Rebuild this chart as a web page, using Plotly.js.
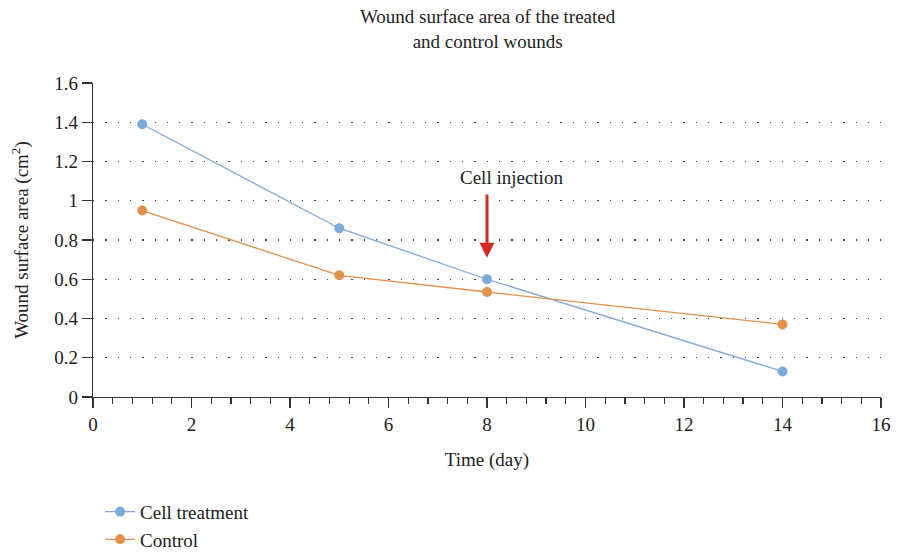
<!DOCTYPE html>
<html>
<head>
<meta charset="utf-8">
<script src="https://cdn.plot.ly/plotly-3.0.1.min.js"></script>
<style>html,body{margin:0;padding:0;background:#fff;}#chart{width:908px;height:554px;}</style>
</head>
<body>
<div id="chart"></div>
<script>
const days = [1, 5, 8, 14];
const cellTreatment = [1.39, 0.86, 0.60, 0.13];
const control = [0.95, 0.62, 0.535, 0.37];
const seriesNames = ["Cell treatment", "Control"];
const yTicks = [0, 0.2, 0.4, 0.6, 0.8, 1, 1.2, 1.4, 1.6];
const yTickText = ["0", "0.2", "0.4", "0.6", "0.8", "1", "1.2", "1.4", "1.6"];
const xTicks = [0, 2, 4, 6, 8, 10, 12, 14, 16];
const injectionDay = 8;
const annotationText = "Cell injection";

const serif = "Liberation Serif";
const blue = "#7eaadb";
const orange = "#e0914b";
const txt = "#222";

const traces = [
  {x: days, y: cellTreatment, name: seriesNames[0], mode: "lines+markers",
   line: {color: blue, width: 1.3}, marker: {color: blue, size: 10}},
  {x: days, y: control, name: seriesNames[1], mode: "lines+markers",
   line: {color: orange, width: 1.3}, marker: {color: orange, size: 10}}
];

const layout = {
  width: 908, height: 554,
  margin: {l: 93, r: 27, t: 83, b: 157, autoexpand: false},
  paper_bgcolor: "#fff", plot_bgcolor: "#fff",
  font: {family: serif, size: 19, color: txt},
  title: {text: "Wound surface area of the treated<br>and control wounds",
          font: {family: serif, size: 19, color: txt},
          x: 0.537, xanchor: "center", y: 0.958, yanchor: "top"},
  xaxis: {range: [0, 16], tickvals: xTicks, ticks: "outside", ticklen: 10, tickwidth: 1.3,
          tickcolor: "#333", showline: true, linecolor: "#333", linewidth: 1.3,
          showgrid: false, zeroline: false,
          minor: {dtick: 0.4, ticks: "outside", ticklen: 6, tickwidth: 1.2, tickcolor: "#333", showgrid: false},
          tickfont: {family: serif, size: 19, color: txt},
          title: {text: "Time (day)", font: {family: serif, size: 19, color: txt}, standoff: 18}},
  yaxis: {range: [0, 1.6], tickvals: yTicks, ticktext: yTickText, ticks: "outside", ticklen: 10,
          tickwidth: 1.3, tickcolor: "#333", showline: true, linecolor: "#333", linewidth: 1.3,
          showgrid: true, gridcolor: "#444", gridwidth: 1.3, griddash: "1.3px,11px", zeroline: false,
          tickfont: {family: serif, size: 19, color: txt},
          title: {text: "Wound surface area (cm<sup>2</sup>)", font: {family: serif, size: 19, color: txt}, standoff: 20}},
  showlegend: true,
  legend: {x: 0.009, xanchor: "left", y: -0.305, yanchor: "top", orientation: "v",
           font: {family: serif, size: 19, color: txt}, bgcolor: "rgba(0,0,0,0)", tracegroupgap: 0},
  annotations: [
    {x: injectionDay, y: 0.71, ax: injectionDay, ay: 1.04, xref: "x", yref: "y", axref: "x", ayref: "y",
     showarrow: true, arrowhead: 2, arrowsize: 1, arrowwidth: 3, arrowcolor: "#d42a20", text: ""},
    {x: 8.5, y: 1.12, xref: "x", yref: "y", text: annotationText, showarrow: false,
     font: {family: serif, size: 19, color: txt}}
  ]
};

Plotly.newPlot("chart", traces, layout, {displayModeBar: false, staticPlot: true});
</script>
</body>
</html>
